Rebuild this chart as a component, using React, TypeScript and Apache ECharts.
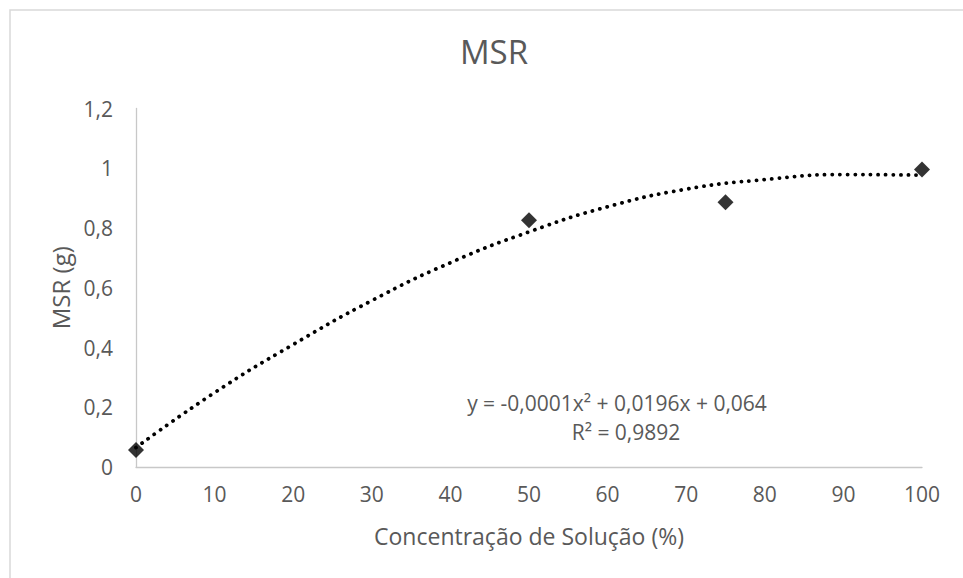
import React, { useEffect, useRef } from "react";
import * as echarts from "echarts";

const concentration = [0, 50, 75, 100];
const msr = [0.057, 0.826, 0.886, 0.996];

const trendX = [0, 10, 20, 30, 40, 50, 60, 70, 80, 90, 100];
const trendY = [0.065, 0.249, 0.41, 0.557, 0.684, 0.787, 0.871, 0.93, 0.962, 0.979, 0.977];

const yTicks = ["0", "0,2", "0,4", "0,6", "0,8", "1", "1,2"];
const equationText = "y = -0,0001x² + 0,0196x + 0,064";
const r2Text = "R² = 0,9892";

const FONT = "'Open Sans', sans-serif";
const TEXT = "#595959";

export default function App() {
  const ref = useRef<HTMLDivElement>(null);
  useEffect(() => {
    if (!ref.current) return;
    const chart = echarts.init(ref.current, undefined, { renderer: "svg" });
    chart.setOption({
      animation: false,
      backgroundColor: "#ffffff",
      textStyle: { fontFamily: FONT },
      title: {
        text: "MSR",
        left: 489,
        top: 30,
        textAlign: "center",
        textStyle: { fontFamily: FONT, fontSize: 33, fontWeight: "normal", color: TEXT },
      },
      grid: { left: 136, right: 41, top: 108.5, bottom: 111, containLabel: false },
      xAxis: {
        type: "value",
        min: 0,
        max: 100,
        interval: 10,
        name: "Concentração de Solução (%)",
        nameLocation: "middle",
        nameGap: 57,
        nameTextStyle: { fontFamily: FONT, fontSize: 23, color: TEXT },
        axisLine: { show: true, lineStyle: { color: "#c8c8c8", width: 1.3 } },
        axisTick: { show: false },
        splitLine: { show: false },
        axisLabel: { fontFamily: FONT, fontSize: 21, color: TEXT, margin: 16 },
      },
      yAxis: {
        type: "value",
        min: 0,
        max: 1.2,
        interval: 0.2,
        name: "MSR (g)",
        nameLocation: "middle",
        nameGap: 62,
        nameTextStyle: { fontFamily: FONT, fontSize: 24, color: TEXT },
        axisLine: { show: true, lineStyle: { color: "#c8c8c8", width: 1.3 } },
        axisTick: { show: false },
        splitLine: { show: false },
        axisLabel: {
          fontFamily: FONT,
          fontSize: 21,
          color: TEXT,
          margin: 23,
          formatter: (v: number) => yTicks[Math.round(v / 0.2)] ?? "",
        },
      },
      graphic: [
        {
          type: "rect",
          shape: { x: 10, y: 10, width: 1000, height: 1000 },
          style: { fill: "none", stroke: "#d9d9d9", lineWidth: 1.5 },
          silent: true,
        },
        {
          type: "text",
          x: 617,
          y: 403,
          style: {
            text: equationText,
            fontFamily: FONT,
            fontSize: 21,
            fill: TEXT,
            align: "center",
            verticalAlign: "middle",
          },
        },
        {
          type: "text",
          x: 626,
          y: 432,
          style: {
            text: r2Text,
            fontFamily: FONT,
            fontSize: 21,
            fill: TEXT,
            align: "center",
            verticalAlign: "middle",
          },
        },
      ],
      series: [
        {
          type: "line",
          data: trendX.map((x, i) => [x, trendY[i]]),
          smooth: true,
          showSymbol: false,
          symbol: "none",
          z: 1,
          lineStyle: { color: "#000000", width: 3.8, type: [0.1, 7.5], cap: "round" },
        },
        {
          type: "scatter",
          data: concentration.map((x, i) => [x, msr[i]]),
          symbol: "diamond",
          symbolSize: [16, 16],
          z: 3,
          itemStyle: { color: "#000000" },
        },
      ],
    });
    return () => chart.dispose();
  }, []);
  return (
    <div
      ref={ref}
      style={{ position: "absolute", left: 0, top: 0, width: 963, height: 578 }}
    />
  );
}
